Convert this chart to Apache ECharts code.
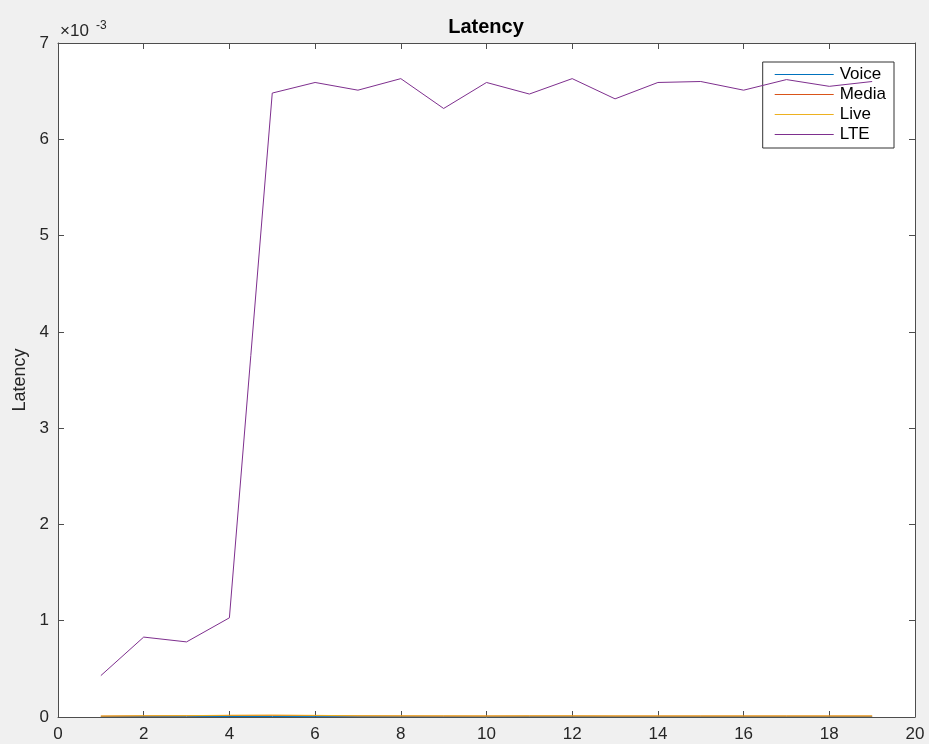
<!DOCTYPE html>
<html>
<head>
<meta charset="utf-8">
<script src="https://cdn.jsdelivr.net/npm/echarts@6/dist/echarts.min.js"></script>
<style>
  html, body { margin: 0; padding: 0; background: #f0f0f0; }
  #chart { width: 929px; height: 744px; }
</style>
</head>
<body>
<div id="chart"></div>
<script>
// Sample index along the x axis
const xs = [1, 2, 3, 4, 5, 6, 7, 8, 9, 10, 11, 12, 13, 14, 15, 16, 17, 18, 19];

// Latency per series (seconds)
const voice = [0.000003, 0.000004, 0.000004, 0.000005, 0.000005, 0.000004, 0.000003, 0.000003, 0.000002, 0.000002, 0.000003, 0.000003, 0.000003, 0.000003, 0.000003, 0.000003, 0.000003, 0.000003, 0.000003];
const media = [0.000009, 0.000012, 0.000013, 0.000016, 0.000017, 0.000015, 0.000012, 0.000011, 0.000010, 0.000010, 0.000011, 0.000011, 0.000010, 0.000010, 0.000010, 0.000010, 0.000010, 0.000010, 0.000010];
const live  = [0.000010, 0.000013, 0.000014, 0.000018, 0.000019, 0.000017, 0.000013, 0.000012, 0.000012, 0.000011, 0.000012, 0.000012, 0.000011, 0.000011, 0.000011, 0.000011, 0.000011, 0.000011, 0.000011];
const lte   = [0.00043, 0.00083, 0.00078, 0.00103, 0.00648, 0.00659, 0.00651, 0.00663, 0.00632, 0.00659, 0.00647, 0.00663, 0.00642, 0.00659, 0.00660, 0.00651, 0.00662, 0.00655, 0.00660];

// Axis tick values
const xTicks = { min: 0, max: 20, step: 2 };
const yTicks = { min: 0, max: 0.007, step: 0.001 };

const seriesNames = ['Voice', 'Media', 'Live', 'LTE'];
const seriesColors = ['#0072BD', '#D95319', '#EDB120', '#7E2F8E'];
const seriesValues = [voice, media, live, lte];

const FONT = 'Helvetica, "Liberation Sans", Arial, sans-serif';
const AXIS_COLOR = '#4d4d4d';
const TEXT_COLOR = '#262626';

const chart = echarts.init(document.getElementById('chart'), null, { renderer: 'canvas' });

function axisCommon(showLabels) {
  return {
    axisLine: { show: true, onZero: false, lineStyle: { color: AXIS_COLOR, width: 1 } },
    axisTick: { show: true, inside: true, length: 6, lineStyle: { color: AXIS_COLOR, width: 1 } },
    splitLine: { show: false },
    axisLabel: { show: showLabels, color: TEXT_COLOR, fontFamily: FONT, fontSize: 17 }
  };
}

const option = {
  backgroundColor: '#f0f0f0',
  animation: false,
  grid: {
    left: 58, right: 14, top: 43, bottom: 27,
    show: true, backgroundColor: '#ffffff', borderWidth: 0
  },
  legend: {
    data: seriesNames.map((name, i) => ({ name: name, icon: 'rect', itemStyle: { color: seriesColors[i] } })),
    orient: 'vertical',
    right: 35,
    top: 62,
    padding: [2.5, 8, 3.5, 12],
    itemGap: 0,
    itemWidth: 59,
    itemHeight: 1,
    backgroundColor: '#ffffff',
    borderColor: '#333333',
    borderWidth: 1,
    borderRadius: 0,
    textStyle: { fontFamily: FONT, fontSize: 17, lineHeight: 20, color: '#000', padding: [0, 0, 0, 1] }
  },
  xAxis: [
    Object.assign({ type: 'value', position: 'bottom', min: xTicks.min, max: xTicks.max, interval: xTicks.step }, axisCommon(true),
      { axisLabel: { color: TEXT_COLOR, fontFamily: FONT, fontSize: 17, margin: 9 } }),
    Object.assign({ type: 'value', position: 'top', min: xTicks.min, max: xTicks.max, interval: xTicks.step }, axisCommon(false))
  ],
  yAxis: [
    Object.assign({
      type: 'value', position: 'left', min: yTicks.min, max: yTicks.max, interval: yTicks.step,
      name: 'Latency', nameLocation: 'middle', nameGap: 28, nameRotate: 90,
      nameTextStyle: { fontFamily: FONT, fontSize: 18, color: TEXT_COLOR }
    }, axisCommon(true), {
      axisLabel: {
        color: TEXT_COLOR, fontFamily: FONT, fontSize: 17, margin: 9,
        formatter: v => String(Math.round(v * 1000))
      }
    }),
    Object.assign({ type: 'value', position: 'right', min: yTicks.min, max: yTicks.max, interval: yTicks.step }, axisCommon(false))
  ],
  graphic: [
    {
      // Chart title, centred over the plot area
      type: 'text',
      x: 486, y: 27,
      style: {
        text: 'Latency', align: 'center', verticalAlign: 'middle',
        fontFamily: FONT, fontSize: 20, fontWeight: 'bold', fill: '#000'
      }
    },
    {
      // Axis exponent multiplier
      type: 'text',
      x: 60, y: 31,
      style: {
        text: '×10', align: 'left', verticalAlign: 'middle',
        fontFamily: FONT, fontSize: 17, fill: TEXT_COLOR
      }
    },
    {
      type: 'text',
      x: 96, y: 26,
      style: {
        text: '-3', align: 'left', verticalAlign: 'middle',
        fontFamily: FONT, fontSize: 12, fill: TEXT_COLOR
      }
    }
  ],
  series: seriesNames.map((name, i) => ({
    name: name,
    type: 'line',
    xAxisIndex: 0,
    yAxisIndex: 0,
    data: xs.map((x, k) => [x, seriesValues[i][k]]),
    symbol: 'none',
    color: seriesColors[i],
    lineStyle: { color: seriesColors[i], width: 1 },
    z: 2 + i
  }))
};

chart.setOption(option);
</script>
</body>
</html>
